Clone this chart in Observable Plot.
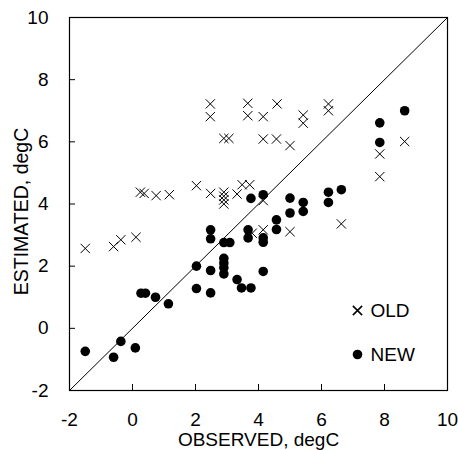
<!DOCTYPE html>
<html>
<head>
<meta charset="utf-8">
<script src="https://cdn.jsdelivr.net/npm/d3@7"></script>
<script src="https://cdn.jsdelivr.net/npm/@observablehq/plot@0.6"></script>
<style>
  html, body { margin: 0; padding: 0; background: #fff; }
  #chart { width: 458px; height: 450px; }
</style>
</head>
<body>
<div id="chart"></div>
<script>
// Axis ticks
const xTicks = [-2, 0, 2, 4, 6, 8, 10];
const yTicks = [-2, 0, 2, 4, 6, 8, 10];
const xLabel = "OBSERVED, degC";
const yLabel = "ESTIMATED, degC";

// OLD series (×)
const oldX = [-1.50, -0.60, -0.37, 0.11, 0.25, 0.37, 0.75, 1.17, 2.03, 2.48,
  2.90, 2.90, 2.90, 2.90, 3.32, 3.48, 3.72, 2.47, 2.47, 2.90,
  3.06, 3.66, 3.66, 4.15, 4.59, 4.15, 4.57, 5.00, 5.42, 5.42,
  6.22, 6.22, 7.85, 7.85, 8.64, 6.63, 5.00, 3.80, 4.15, 4.15];
const oldY = [2.57, 2.63, 2.85, 2.93, 4.38, 4.34, 4.27, 4.30, 4.59, 4.34,
  4.38, 4.25, 4.13, 4.00, 4.32, 4.62, 4.62, 7.22, 6.81, 6.11,
  6.11, 7.24, 6.84, 6.81, 7.22, 6.09, 6.09, 5.88, 6.86, 6.60,
  7.22, 7.00, 5.61, 4.88, 6.01, 3.36, 3.11, 3.06, 3.17, 4.11];

// NEW series (●)
const newX = [-1.50, -0.60, -0.37, 0.09, 0.27, 0.41, 0.73, 1.14, 2.03, 2.03,
  2.48, 2.48, 2.48, 2.48, 2.90, 3.09, 2.90, 2.90, 2.90, 2.90,
  3.32, 3.46, 3.76, 3.67, 3.67, 3.76, 4.15, 4.15, 4.15, 4.15,
  4.57, 4.57, 5.00, 5.00, 5.42, 5.42, 6.22, 6.22, 6.63, 7.85,
  7.85, 8.64];
const newY = [-0.74, -0.93, -0.42, -0.63, 1.13, 1.13, 1.00, 0.79, 2.00, 1.28,
  1.86, 1.14, 3.17, 2.88, 2.76, 2.76, 2.25, 2.10, 1.95, 1.75,
  1.57, 1.30, 1.30, 3.17, 2.91, 4.18, 4.30, 2.91, 2.77, 1.83,
  3.49, 3.18, 4.19, 3.71, 4.05, 3.76, 4.38, 4.05, 4.46, 6.61,
  5.98, 7.00];

const oldData = oldX.map((x, i) => ({x, y: oldY[i]}));
const newData = newX.map((x, i) => ({x, y: newY[i]}));
const diag = [{x1: xTicks[0], y1: yTicks[0], x2: xTicks[xTicks.length - 1], y2: yTicks[yTicks.length - 1]}];

const font = "'Liberation Sans', Arial, Helvetica, sans-serif";

const chart = Plot.plot({
  width: 458,
  height: 450,
  marginLeft: 69,
  marginRight: 11,
  marginTop: 17,
  marginBottom: 60,
  x: {domain: [xTicks[0], xTicks[xTicks.length - 1]]},
  y: {domain: [yTicks[0], yTicks[yTicks.length - 1]]},
  style: {fontFamily: font, fontSize: "19px", color: "black", background: "white"},
  marks: [
    Plot.axisX({ticks: xTicks, tickSize: -6, tickPadding: 28, tickFormat: d => String(d),
      label: xLabel, labelAnchor: "center", labelArrow: "none", labelOffset: 55}),
    Plot.axisY({ticks: yTicks, tickSize: -6, tickPadding: 27, tickFormat: d => String(d), label: null}),
    Plot.text([yLabel], {frameAnchor: "left", rotate: -90, dx: -47.5, dy: 7.5, text: d => d,
      textAnchor: "middle", lineAnchor: "middle", fontSize: 19.5, fill: "black"}),
    Plot.link(diag, {x1: "x1", y1: "y1", x2: "x2", y2: "y2", stroke: "black", strokeWidth: 1}),
    Plot.dot(oldData, {x: "x", y: "y", symbol: "times", r: 4.3, stroke: "black", strokeWidth: 1}),
    Plot.dot(newData, {x: "x", y: "y", symbol: "circle", r: 4.8, fill: "black", stroke: "none"}),
    Plot.frame({stroke: "black", strokeWidth: 1.2}),
    // legend (positioned relative to the frame's bottom-right corner)
    Plot.dot(["OLD"], {frameAnchor: "bottom-right", dx: -90, dy: -80, symbol: "times", r: 4.3, stroke: "black"}),
    Plot.dot(["NEW"], {frameAnchor: "bottom-right", dx: -90, dy: -36, symbol: "circle", r: 4.8, fill: "black"}),
    Plot.text(["OLD"], {frameAnchor: "bottom-right", dx: -77, dy: -80, text: d => d, textAnchor: "start", lineAnchor: "middle", fontSize: 19, fill: "black"}),
    Plot.text(["NEW"], {frameAnchor: "bottom-right", dx: -77, dy: -36, text: d => d, textAnchor: "start", lineAnchor: "middle", fontSize: 19, fill: "black"})
  ]
});
document.getElementById("chart").appendChild(chart);
</script>
</body>
</html>
